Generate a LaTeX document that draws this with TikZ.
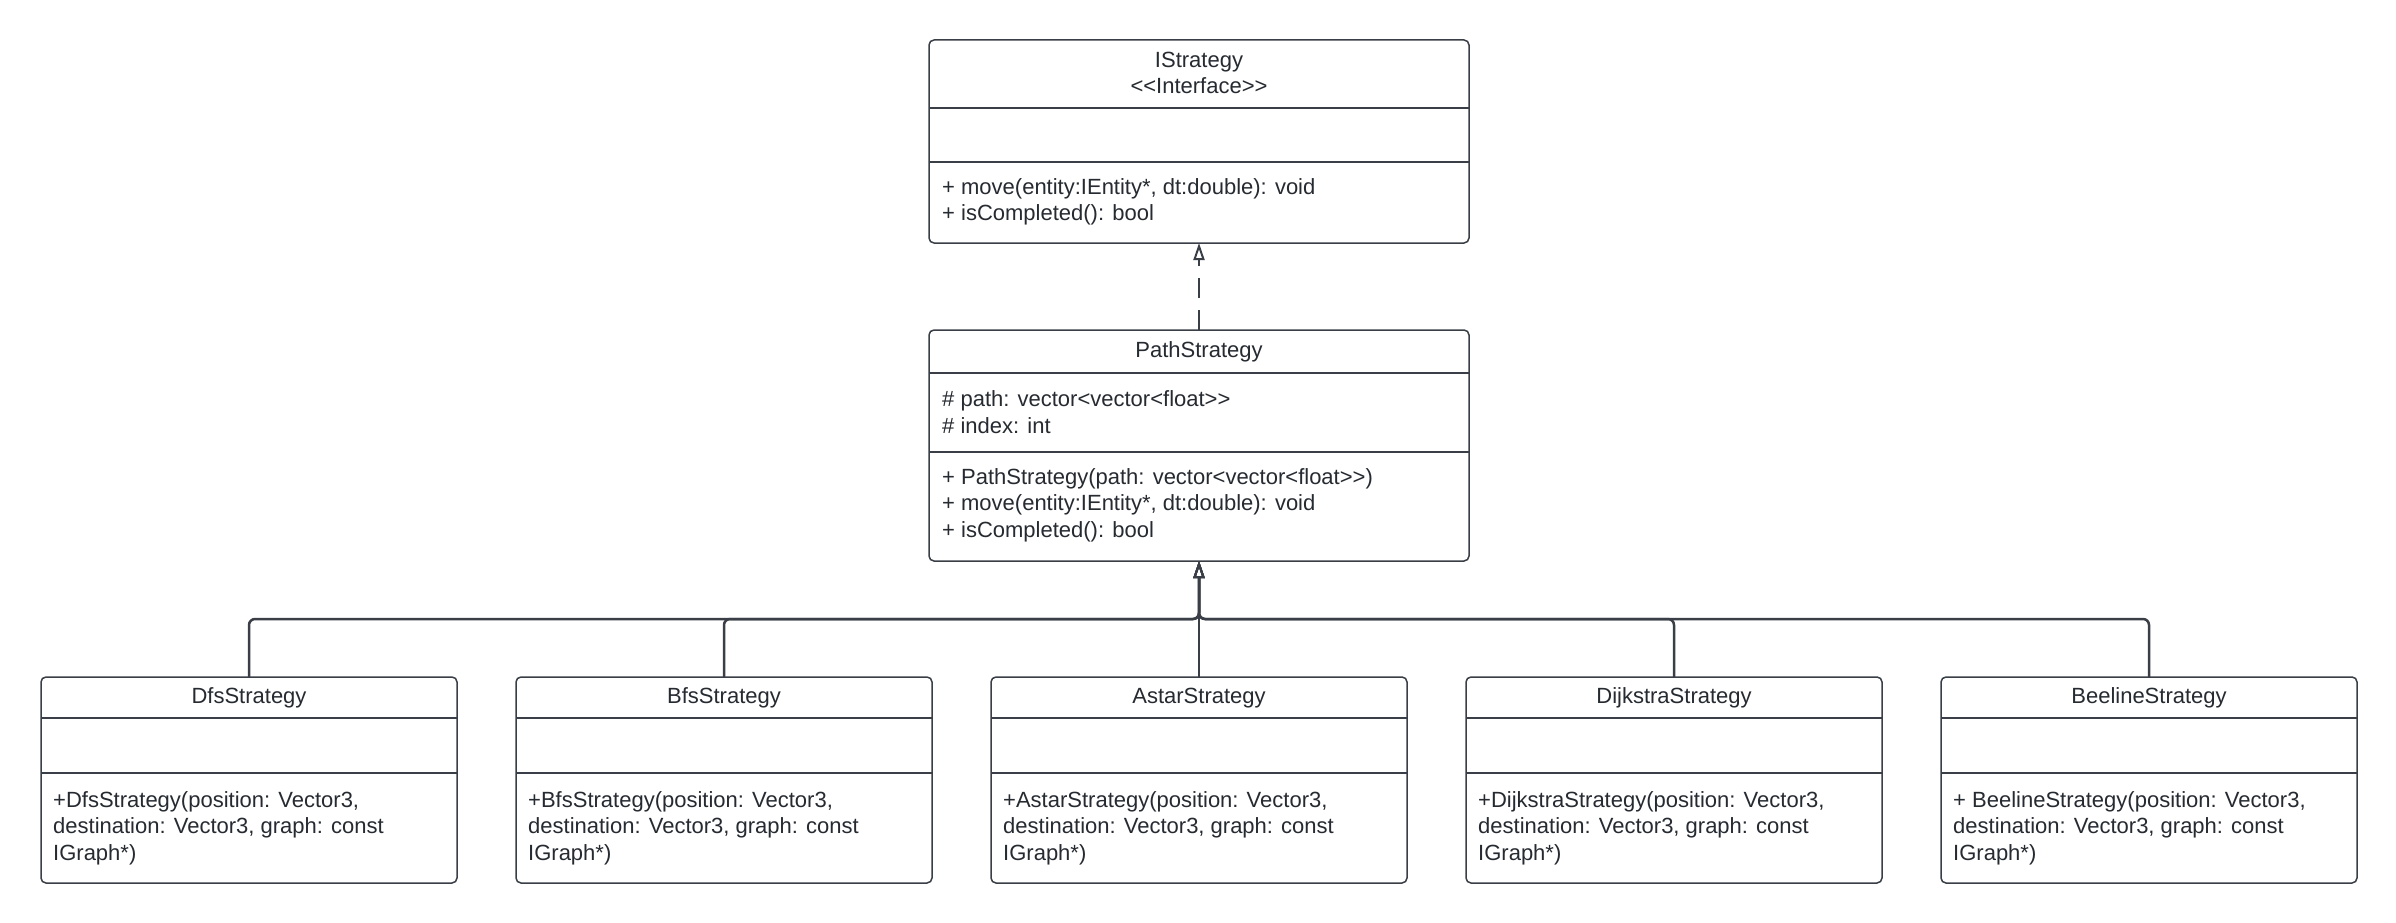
\documentclass[tikz,border=0pt]{standalone}
\usepackage{fontspec}
\setmainfont{Liberation Sans}
\usetikzlibrary{arrows.meta}
\definecolor{ink}{HTML}{262A31}
\definecolor{edge}{HTML}{3A3F47}

\tikzset{
  classbox/.style={draw=edge, line width=1.5pt, rounded corners=5pt, rectangle,
    inner sep=0pt, outer sep=0pt, anchor=north west},
  divider/.style={draw=edge, line width=1.5pt},
  txt/.style={font=\fontsize{22}{26.5}\selectfont, text=ink, inner sep=0pt},
  title/.style={txt, align=center},
  members/.style={txt, align=left, anchor=west},
  inherit/.style={draw=edge, line width=2.5pt, rounded corners=6pt,
    -{Triangle[open, length=17pt, width=11pt, line width=2pt]}},
  realize/.style={inherit, rounded corners=0pt, dash pattern=on 20pt off 12pt},
}

% class frame: name, left, top, width, height, first divider, second divider
\newcommand\umlframe[7]{%
  \node[classbox, minimum width=#4pt, minimum height=#5pt] (#1) at (#2,#3) {};
  \draw[divider] ([yshift=-#6pt]#1.north west) -- ([yshift=-#6pt]#1.north east);
  \draw[divider] ([yshift=-#7pt]#1.north west) -- ([yshift=-#7pt]#1.north east);
}

\begin{document}
\begin{tikzpicture}[x=1pt,y=-1pt]
\fill[white] (0,0) rectangle (2396,923);
\useasboundingbox (0,0) rectangle (2396,923);

% interface
\umlframe{istr}{929}{40}{540}{203}{68}{122}
\node[title] (istrT) at (1199,73) {IStrategy\\<{}<Interface>{}>};
\node[members] (istrM) at (942,202) {+ move(entity:IEntity*, dt:double): void\\+ isCompleted(): bool};

% abstract path strategy
\umlframe{pstr}{929}{330}{540}{231}{43}{122}
\node[title] (pstrT) at (1199,352) {PathStrategy};
\node[members] (pstrA) at (942,412) {\# path: vector<vector<float>{}>\\\# index: int};
\node[members] (pstrM) at (942,505) {+ PathStrategy(path: vector<vector<float>{}>)\\+ move(entity:IEntity*, dt:double): void\\+ isCompleted(): bool};

% concrete strategies
\umlframe{dfs}{41}{677}{416}{206}{41}{96}
\node[title] (dfsT) at (249,698) {DfsStrategy};
\node[members] (dfsM) at (53,828) {+DfsStrategy(position: Vector3,\\destination: Vector3, graph: const\\IGraph*)};

\umlframe{bfs}{516}{677}{416}{206}{41}{96}
\node[title] (bfsT) at (724,698) {BfsStrategy};
\node[members] (bfsM) at (528,828) {+BfsStrategy(position: Vector3,\\destination: Vector3, graph: const\\IGraph*)};

\umlframe{astar}{991}{677}{416}{206}{41}{96}
\node[title] (astarT) at (1199,698) {AstarStrategy};
\node[members] (astarM) at (1003,828) {+AstarStrategy(position: Vector3,\\destination: Vector3, graph: const\\IGraph*)};

\umlframe{dijk}{1466}{677}{416}{206}{41}{96}
\node[title] (dijkT) at (1674,698) {DijkstraStrategy};
\node[members] (dijkM) at (1478,828) {+DijkstraStrategy(position: Vector3,\\destination: Vector3, graph: const\\IGraph*)};

\umlframe{beel}{1941}{677}{416}{206}{41}{96}
\node[title] (beelT) at (2149,698) {BeelineStrategy};
\node[members] (beelM) at (1953,828) {+ BeelineStrategy(position: Vector3,\\destination: Vector3, graph: const\\IGraph*)};

% realization
\draw[realize] (pstr.north) -- (istr.south);

% generalization bus
\coordinate (bus) at (1199,619);
\foreach \c in {dfs,bfs,dijk,beel}
  \draw[inherit] (\c.north) |- (bus) -- (pstr.south);
\draw[inherit] (astar.north) -- (pstr.south);
\end{tikzpicture}
\end{document}
